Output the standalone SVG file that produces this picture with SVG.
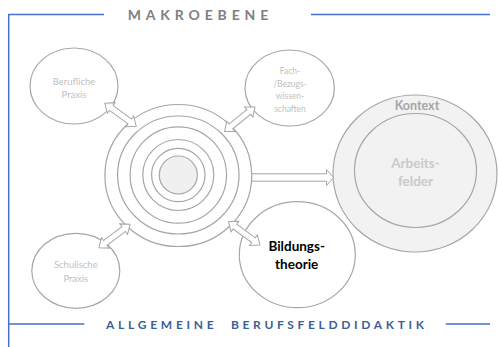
<svg xmlns="http://www.w3.org/2000/svg" xmlns:xlink="http://www.w3.org/1999/xlink" width="498" height="347" viewBox="0 0 498 347">
<style>
.frame{stroke:#4472c4;stroke-width:1.5;fill:none}
.node{fill:#ffffff;stroke:#a6a6a6;stroke-width:1.2}
.ring{fill:none;stroke:#a6a6a6;stroke-width:1.2}
.gfill{fill:#f2f2f2;stroke:#a6a6a6;stroke-width:1.2}
.arrow{fill:#ffffff;stroke:#a6a6a6;stroke-width:1}
.lt{font-family:Lato,"Liberation Sans",sans-serif;text-anchor:middle}
.small{font-size:9.5px;fill:#bfbfbf}
.title{font-family:Lato,"Liberation Sans",sans-serif;font-weight:bold}
</style>
<defs>
<path id="dbl" d="M-19.5,0 L-11.5,-6.5 L-11.5,-3 L11.5,-3 L11.5,-6.5 L19.5,0 L11.5,6.5 L11.5,3 L-11.5,3 L-11.5,6.5 Z"/>
</defs>
<g id="frame">
<path class="frame" d="M104,14.5 H8.7 V347"/>
<path class="frame" d="M311,14.5 H490"/>
<path class="frame" d="M8.7,324 H84.3"/>
<path class="frame" d="M445.7,324 H490"/>
<text class="title" x="127.7" y="20" font-size="14" fill="#808080" textLength="140.6" lengthAdjust="spacing">MAKROEBENE</text>
<text class="title" x="106" y="329" font-size="12" fill="#3a5f9a" textLength="107.7" lengthAdjust="spacing">ALLGEMEINE</text>
<text class="title" x="231" y="329" font-size="12" fill="#3a5f9a" textLength="193" lengthAdjust="spacing">BERUFSFELDDIDAKTIK</text>
</g>
<g id="kontext">
<ellipse class="gfill" cx="415" cy="173.5" rx="82" ry="78.5"/>
<text class="lt" x="417" y="110" font-size="12.5" font-weight="bold" fill="#a6a6a6">Kontext</text>
</g>
<g id="arbeitsfelder">
<ellipse class="gfill" cx="415.5" cy="170.5" rx="61" ry="57"/>
<text class="lt" x="415.5" y="168.3" font-size="13.5" font-weight="bold" fill="#c9c9c9">Arbeits-</text>
<text class="lt" x="415.5" y="186" font-size="13.5" font-weight="bold" fill="#c9c9c9">felder</text>
</g>
<g id="berufliche-praxis">
<ellipse class="node" cx="74" cy="86" rx="44" ry="38"/>
<text class="lt small" x="74" y="85">Berufliche</text>
<text class="lt small" x="74" y="98">Praxis</text>
</g>
<g id="fach-bezugswissenschaften">
<ellipse class="node" cx="289.7" cy="88" rx="44.7" ry="38"/>
<text class="lt" x="290" y="74.3" font-size="8.5" fill="#bfbfbf">Fach-</text>
<text class="lt" x="290" y="86.7" font-size="8.5" fill="#bfbfbf">/Bezugs-</text>
<text class="lt" x="290" y="99" font-size="8.5" fill="#bfbfbf">wissen-</text>
<text class="lt" x="290" y="111.7" font-size="8.5" fill="#bfbfbf">schaften</text>
</g>
<g id="schulische-praxis">
<ellipse class="node" cx="75.8" cy="270.8" rx="44" ry="37.5"/>
<text class="lt small" x="75.8" y="267.5">Schulische</text>
<text class="lt small" x="75.8" y="281.5">Praxis</text>
</g>
<g id="bildungstheorie">
<ellipse class="node" cx="297.3" cy="254.7" rx="58" ry="53"/>
<text class="lt" x="296.7" y="251" font-size="13.5" font-weight="bold" fill="#000000">Bildungs-</text>
<text class="lt" x="296.7" y="269" font-size="13.5" font-weight="bold" fill="#000000">theorie</text>
</g>
<g id="zentrum">
<ellipse class="node" cx="178.3" cy="175.5" rx="73.4" ry="71"/>
<ellipse class="ring" cx="178.3" cy="175" rx="60.7" ry="59"/>
<circle class="ring" cx="178.3" cy="175" r="48.2"/>
<circle class="ring" cx="178.3" cy="175" r="35.5"/>
<circle class="ring" cx="178.3" cy="175" r="26.7"/>
<circle cx="178.3" cy="175" r="19" fill="#f0f0f0" stroke="#a6a6a6" stroke-width="1.2"/>
</g>
<g id="connectors">
<use xlink:href="#dbl" class="arrow" transform="translate(120.5,114.7) rotate(36.2)"/>
<use xlink:href="#dbl" class="arrow" transform="translate(239.8,119.2) rotate(-38.9)"/>
<use xlink:href="#dbl" class="arrow" transform="translate(114.5,236) rotate(-37)"/>
<use xlink:href="#dbl" class="arrow" transform="translate(244.2,233.4) rotate(36.3)"/>
<polygon class="arrow" points="251.8,173.8 326.5,173.8 326.5,169.5 333.5,177.5 326.5,185.5 326.5,181.2 251.8,181.2"/>
</g>
</svg>
